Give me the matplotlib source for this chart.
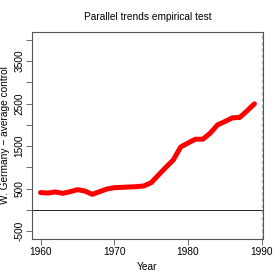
import matplotlib
matplotlib.use("Agg")
from matplotlib import pyplot as plt

plt.rcParams["font.family"] = ["Liberation Sans", "DejaVu Sans"]

years = list(range(1960, 1990))
gap = [410, 400, 424, 392, 431, 478, 447, 369, 431, 494,
       525, 533, 541, 549, 565, 643, 824, 1004, 1176, 1480,
       1575, 1663, 1663, 1804, 2000, 2078, 2165, 2173, 2329, 2494]

y_ticks = list(range(-500, 4001, 500))
y_labels = ["-500", "", "500", "", "1500", "", "2500", "", "3500", ""]
x_ticks = [1960, 1970, 1980, 1990]

fig = plt.figure(figsize=(2.8, 2.8), dpi=100)
ax = fig.add_axes([32 / 280, 41 / 280, 231 / 280, 207 / 280])

ax.plot(years, gap, color="red", linewidth=3.6, solid_capstyle="round")
ax.axhline(0, color="black", linewidth=0.6)
ax.axvline(1990, color="#bbbbbb", linewidth=0.9, linestyle=(0, (3, 2)))

ax.set_xlim(1960 - 0.04 * 29, 1989 + 0.04 * 29)
ax.set_ylim(-500 - 0.04 * 4500, 4000 + 0.04 * 4500)
ax.set_xticks(x_ticks)
ax.set_yticks(y_ticks)
ax.set_yticklabels(y_labels, rotation=90, va="center")

for s in ax.spines.values():
    s.set_color("#555555")
    s.set_linewidth(0.8)
ax.tick_params(direction="out", length=4, width=0.6, color="#555555",
               labelsize=7.3, pad=1.5)

ax.set_title("Parallel trends empirical test", fontsize=7.3, pad=9)
ax.set_xlabel("Year", fontsize=7.3, labelpad=4)
ax.set_ylabel("W. Germany \u2212 average control", fontsize=7.3, labelpad=3)

fig.savefig("out.png", dpi=100)
